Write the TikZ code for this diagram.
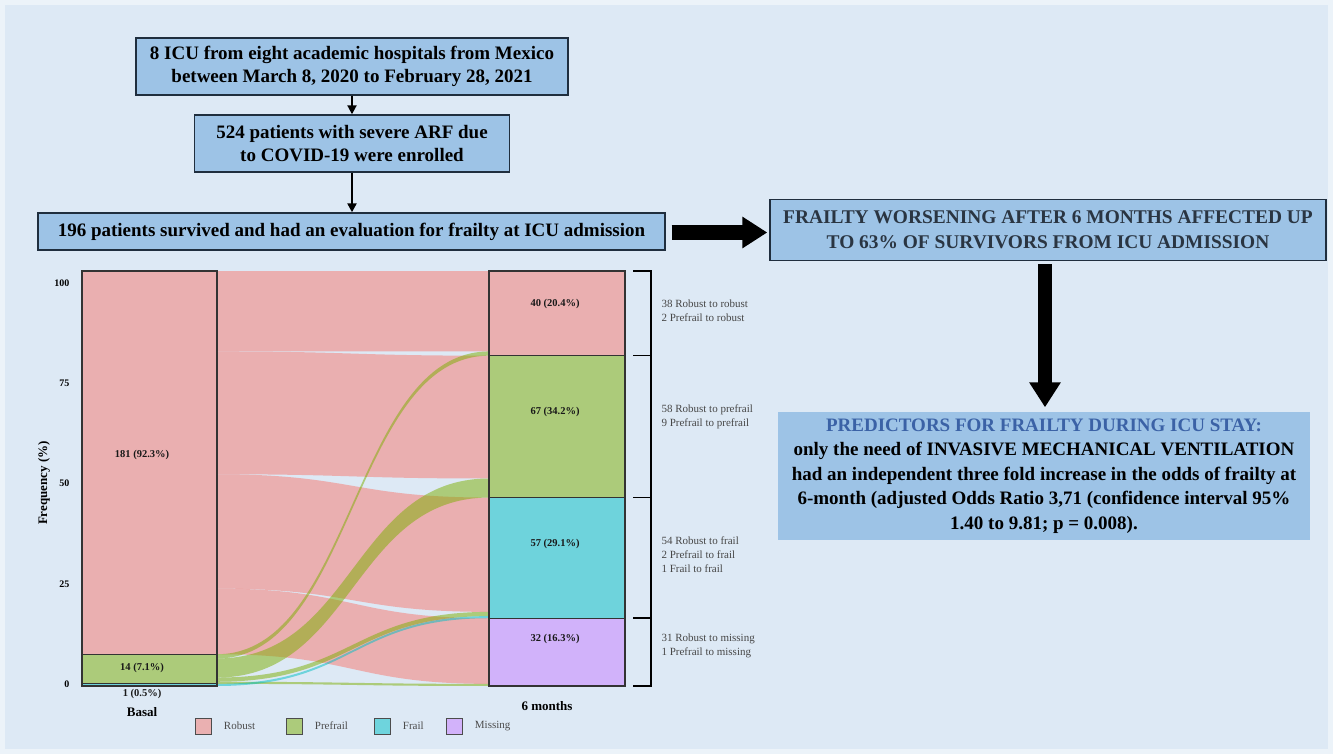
\documentclass[tikz,border=0pt]{standalone}
\usepackage{fontspec}
\setmainfont{Liberation Serif}
\usetikzlibrary{calc,positioning,arrows.meta}

\definecolor{bgblue}{HTML}{DDE9F5}
\definecolor{boxblue}{HTML}{9DC3E6}
\definecolor{boxline}{HTML}{1F2E3E}
\definecolor{headblue}{HTML}{3B62A6}
\definecolor{capgray}{HTML}{2A3542}
\definecolor{robust}{HTML}{F8766D}
\definecolor{prefrail}{HTML}{7CAE00}
\definecolor{frail}{HTML}{00BFC4}
\definecolor{missing}{HTML}{C77CFF}

\begin{document}
\begin{tikzpicture}[
            x=1pt, y=-1pt,
            flowbox/.style={draw=boxline, line width=1.4pt, fill=boxblue, align=center, inner sep=0pt,
                font=\fontsize{19}{23.5}\selectfont\bfseries},
            thinarrow/.style={line width=2pt, -{Triangle[length=9pt,width=9pt]}},
            blockarrow/.style={line width=14pt, -{Triangle[length=25pt,width=30pt]}},
            stratum/.style={draw=black!80, line width=1.2pt, fill opacity=.5},
            count/.style={text=black!90, font=\fontsize{10.5}{12}\selectfont\bfseries},
            axislabel/.style={font=\fontsize{13}{15}\selectfont\bfseries},
            ticklabel/.style={anchor=east, font=\fontsize{10}{12}\selectfont\bfseries},
            note/.style={anchor=west, align=left, text=black!72, font=\fontsize{11}{14}\selectfont},
            legendbox/.style={draw=black!70, line width=.8pt, minimum size=16pt, inner sep=0pt},
            legendtext/.style={text=black!70, font=\fontsize{11}{12}\selectfont}
        ]
            \fill[bgblue!55!white] (0,0) rectangle (1333,754);
            \fill[bgblue] (5,5) rectangle (1328,749);
            \useasboundingbox (0,0) rectangle (1333,754);

            % flow chart boxes
            \node[flowbox, minimum width=432pt, minimum height=57pt] (icu) at (352,66.5)
                {8 ICU from eight academic hospitals from Mexico\\between March 8, 2020 to February 28, 2021};
            \node[flowbox, minimum width=315pt, minimum height=57pt] (enrolled) at (352,143.5)
                {524 patients with severe ARF due\\to COVID-19 were enrolled};
            \node[flowbox, minimum width=627pt, minimum height=37pt] (survived) at (351.5,231.5)
                {196 patients survived and had an evaluation for frailty at ICU admission};
            \node[flowbox, text=capgray, minimum width=556pt, minimum height=61pt,
                font=\fontsize{19.4}{25}\selectfont\bfseries] (worsening) at (1048,230)
                {FRAILTY WORSENING AFTER 6 MONTHS AFFECTED UP\\TO 63\% OF SURVIVORS FROM ICU ADMISSION};
            \node[flowbox, draw=none, minimum width=532pt, minimum height=128pt,
                font=\fontsize{19}{24.5}\selectfont\bfseries] (predictors) at (1044,476)
                {\textcolor{headblue}{PREDICTORS FOR FRAILTY DURING ICU STAY:}\\
                 only the need of INVASIVE MECHANICAL VENTILATION\\
                 had an independent three fold increase in the odds of frailty at\\
                 6-month (adjusted Odds Ratio 3,71 (confidence interval 95\%\\
                 1.40 to 9.81; p = 0.008).};

            \draw[thinarrow] (icu.south) -- (icu.south |- enrolled.north);
            \draw[thinarrow, line width=2.5pt] (enrolled.south) -- (enrolled.south |- survived.north);
            \draw[blockarrow, shorten <=6pt, shorten >=2pt] ([yshift=-1pt]survived.east) -- ([yshift=-1pt]survived.east -| worsening.west);
            \draw[blockarrow, shorten <=3pt, shorten >=4pt] ([xshift=-3pt]worsening.south) -- ([xshift=-3pt]worsening.south |- predictors.north);

            % alluvial plot, one y unit per patient
            \begin{scope}[shift={(0,271)}, y=-2.1173pt]
                \foreach \c/\la/\lb/\ra/\rb in {robust/0/38/0/38, robust/38/96/40/98, robust/96/150/107/161,
                        robust/150/181/164/195, prefrail/181/183/38/40, prefrail/183/192/98/107,
                        prefrail/192/194/161/163, prefrail/194/195/195/196, frail/195/196/163/164}
                    \fill[fill=\c, fill opacity=.5] (217,\la) .. controls (353,\la) and (353,\ra) .. (489,\ra)
                        -- (489,\rb) .. controls (353,\rb) and (353,\lb) .. (217,\lb) -- cycle;
                \foreach \c/\a/\b in {robust/0/181, prefrail/181/195, frail/195/196}
                    \filldraw[stratum, fill=\c] (82,\a) rectangle (217,\b);
                \foreach \c/\a/\b in {robust/0/40, prefrail/40/107, frail/107/164, missing/164/196}
                    \filldraw[stratum, fill=\c] (489,\a) rectangle (625,\b);
                \draw[line width=1.6pt] (633,0) -- (651,0) -- (651,196) -- (633,196);
                \foreach \t in {40,107,164}
                    \draw[line width=1.6pt] (633,\t) -- (651,\t);
            \end{scope}

            \node[count] (b-robust) at (142,455) {181 (92.3\%)};
            \node[count] (b-prefrail) at (142,668) {14 (7.1\%)};
            \node[count] (b-frail) at (142,694) {1 (0.5\%)};
            \node[count] (m-robust) at (555,304) {40 (20.4\%)};
            \node[count] (m-prefrail) at (555,412) {67 (34.2\%)};
            \node[count] (m-frail) at (555,544) {57 (29.1\%)};
            \node[count] (m-missing) at (555,639) {32 (16.3\%)};
            \node[axislabel] (basal) at (142,712) {Basal};
            \node[axislabel] (months) at (547,706) {6 months};
            \node[axislabel, rotate=90] (freq) at (44,483) {Frequency (\%)};
            \foreach \v/\y in {100/283, 75/383, 50/483, 25/584, 0/684}
                \node[ticklabel] (y\v) at (73,\y) {\v};

            \node[note] (n-robust) at (658,311) {38 Robust to robust\\2 Prefrail to robust};
            \node[note] (n-prefrail) at (658,416.5) {58 Robust to prefrail\\9 Prefrail to prefrail};
            \node[note] (n-frail) at (658,554.5) {54 Robust to frail\\2 Prefrail to frail\\1 Frail to frail};
            \node[note] (n-missing) at (658,646) {31 Robust to missing\\1 Prefrail to missing};

            % legend
            \foreach \c/\x/\t in {robust/203/Robust, prefrail/294/Prefrail, frail/382/Frail, missing/454/Missing} {
                \node[legendbox, fill=\c!50!bgblue] (key-\c) at (\x,726) {};
                \node[legendtext, right=9pt of key-\c] (lab-\c) {\t};
            }
        \end{tikzpicture}
\end{document}
